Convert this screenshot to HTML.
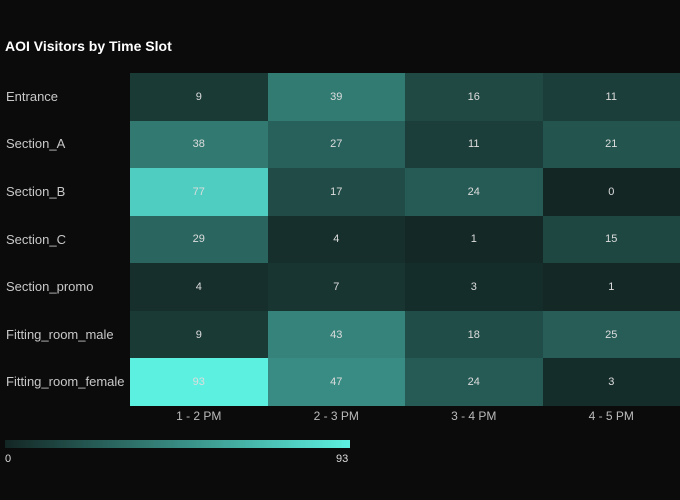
<!DOCTYPE html>
<html><head><meta charset="utf-8"><style>
body{margin:0;width:680px;height:500px;background:#0b0b0b;font-family:"Liberation Sans",sans-serif;overflow:hidden;position:relative}
.t{position:absolute;left:5px;top:38px;color:#fff;font-weight:bold;font-size:14px}
.rl{position:absolute;left:6px;color:#c8c8c8;font-size:13px}
.c{position:absolute;display:flex;align-items:center;justify-content:center;color:#ddd;font-size:11px}
.cl{position:absolute;top:409px;width:137.5px;text-align:center;color:#bbb;font-size:12px}
</style></head><body>
<div class="t">AOI Visitors by Time Slot</div>
<div id="g"></div>
<div style="position:absolute;left:5px;top:440px;width:345px;height:8px;background:linear-gradient(to right,#132624,#5cf0e0)"></div>
<div style="position:absolute;left:5px;top:453px;color:#ddd;font-size:11px">0</div>
<div style="position:absolute;left:336px;top:453px;color:#ddd;font-size:11px">93</div>
<script>
var rows=["Entrance","Section_A","Section_B","Section_C","Section_promo","Fitting_room_male","Fitting_room_female"];
var d=[[9,39,16,11],[38,27,11,21],[77,17,24,0],[29,4,1,15],[4,7,3,1],[9,43,18,25],[93,47,24,3]];
var cols=["1 - 2 PM","2 - 3 PM","3 - 4 PM","4 - 5 PM"];
var h="",rh=333/7,a=[19,38,36],b=[92,240,224];
for(var i=0;i<7;i++){var y=73+i*rh;
h+='<div class="rl" style="top:'+(y+rh/2-8)+'px">'+rows[i]+'</div>';
for(var j=0;j<4;j++){var t=d[i][j]/93,c=a.map(function(v,k){return Math.round(v+(b[k]-v)*t)});
h+='<div class="c" style="left:'+(130+j*137.5)+'px;top:'+y+'px;width:137.5px;height:'+rh+'px;background:rgb('+c+')">'+d[i][j]+'</div>';}}
for(var j=0;j<4;j++)h+='<div class="cl" style="left:'+(130+j*137.5)+'px">'+cols[j]+'</div>';
document.getElementById("g").innerHTML=h;
</script>
</body></html>
